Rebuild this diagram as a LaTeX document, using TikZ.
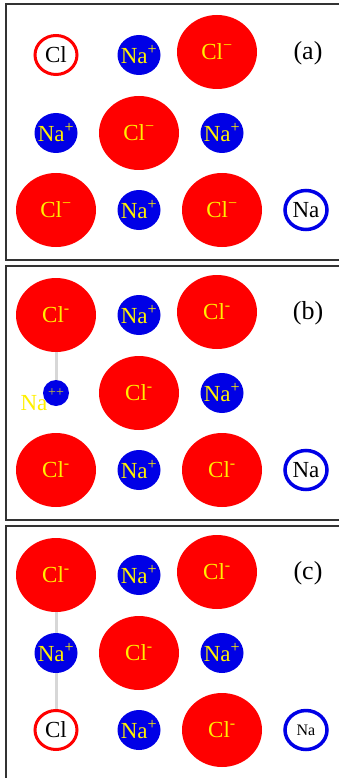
\documentclass[tikz,border=0pt]{standalone}
\usepackage{fontspec}
\setmainfont{Liberation Serif}
\usetikzlibrary{shapes.geometric,positioning}

\definecolor{ionred}{RGB}{255,0,0}
\definecolor{ionblue}{RGB}{0,0,230}
\definecolor{ionyellow}{RGB}{255,240,0}
\definecolor{bondgray}{RGB}{215,215,215}

\begin{document}
\begin{tikzpicture}[x=1pt,y=-1pt,
every node/.style={ellipse, inner sep=-5pt, font=\fontsize{23}{25}\selectfont},
clion/.style={fill=ionred, minimum width=80, minimum height=74, text=ionyellow},
naion/.style={fill=ionblue, minimum width=43, minimum height=40, text=ionyellow},
clatom/.style={draw=ionred, line width=3, fill=white, minimum width=42, minimum height=39},
naatom/.style={draw=ionblue, line width=3.5, fill=white, minimum width=42, minimum height=39},
tag/.style={draw=none, font=\fontsize{26}{28}\selectfont},
bond/.style={draw=bondgray, line width=3},
frame/.style={draw=black!80, line width=1.4}]
\useasboundingbox (0,0) rectangle (339,778);
\clip (0,0) rectangle (339,778);
% panel (a)
\draw[frame] (6,4) rectangle (360,260);
\node[clatom] (a1) at (56,55) {Cl};
\node[naion] (a2) at (139,55) {Na\textsuperscript{+}};
\node[clion] (a3) at (217,52) {Cl\textsuperscript{−}};
\node[tag] (a0) at (308,53) {(a)};
\node[naion] (a4) at (56,133) {Na\textsuperscript{+}};
\node[clion] (a5) at (139,133) {Cl\textsuperscript{−}};
\node[naion] (a6) at (222,133) {Na\textsuperscript{+}};
\node[clion] (a7) at (56,210) {Cl\textsuperscript{−}};
\node[naion] (a8) at (139,210) {Na\textsuperscript{+}};
\node[clion] (a9) at (222,210) {Cl\textsuperscript{−}};
\node[naatom] (a10) at (306,210) {Na};
% panel (b)
\draw[frame] (6,266) rectangle (360,520);
\node[clion] (b1) at (56,315) {Cl\textsuperscript{-}};
\node[naion] (b2) at (139,315) {Na\textsuperscript{+}};
\node[clion] (b3) at (217,312) {Cl\textsuperscript{-}};
\node[tag] (b0) at (308,313) {(b)};
\node[naion, minimum width=26, minimum height=26, text=ionyellow!60!gray,
  font=\fontsize{14}{14}\selectfont] (b4) at (56,393) {++};
\node[draw=none, text=ionyellow] (b4l) at (34,403) {Na};
\node[clion] (b5) at (139,393) {Cl\textsuperscript{-}};
\node[naion] (b6) at (222,393) {Na\textsuperscript{+}};
\node[clion] (b7) at (56,470) {Cl\textsuperscript{-}};
\node[naion] (b8) at (139,470) {Na\textsuperscript{+}};
\node[clion] (b9) at (222,470) {Cl\textsuperscript{-}};
\node[naatom] (b10) at (306,470) {Na};
\draw[bond] (b1) -- (b4);
% panel (c)
\draw[frame] (6,526) rectangle (360,790);
\node[clion] (c1) at (56,575) {Cl\textsuperscript{-}};
\node[naion] (c2) at (139,575) {Na\textsuperscript{+}};
\node[clion] (c3) at (217,572) {Cl\textsuperscript{-}};
\node[tag] (c0) at (308,573) {(c)};
\node[naion] (c4) at (56,653) {Na\textsuperscript{+}};
\node[clion] (c5) at (139,653) {Cl\textsuperscript{-}};
\node[naion] (c6) at (222,653) {Na\textsuperscript{+}};
\node[clatom] (c7) at (56,730) {Cl};
\node[naion] (c8) at (139,730) {Na\textsuperscript{+}};
\node[clion] (c9) at (222,730) {Cl\textsuperscript{-}};
\node[naatom, font=\fontsize{16}{17}\selectfont] (c10) at (306,730) {Na};
\draw[bond] (c1) -- (c4);
\draw[bond] (c4) -- (c7);
\end{tikzpicture}
\end{document}
